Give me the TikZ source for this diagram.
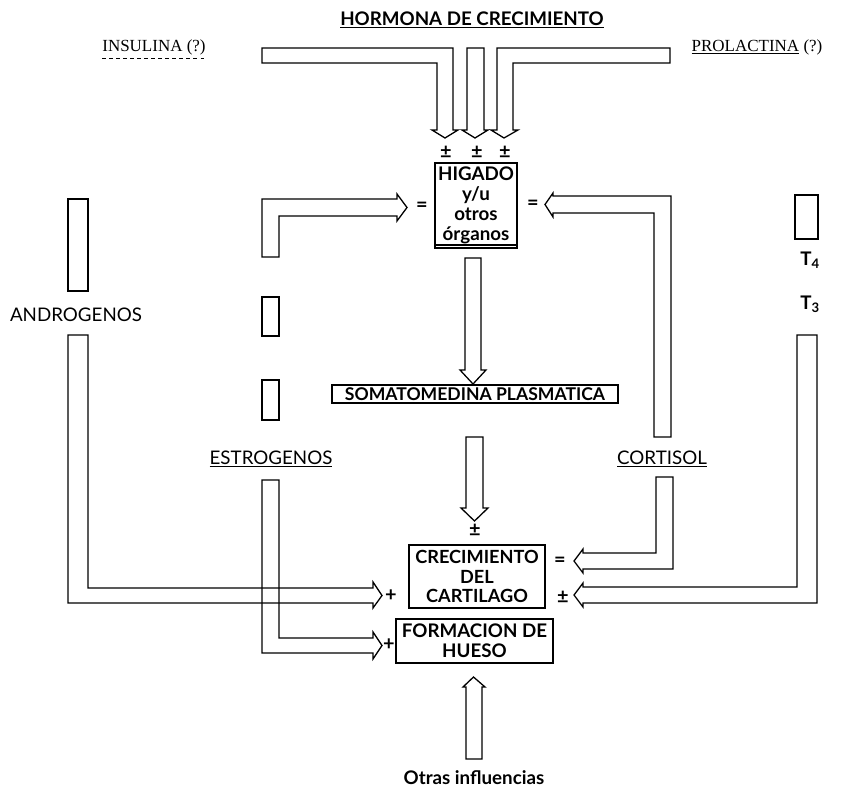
\documentclass[tikz,border=0pt]{standalone}
\usepackage{fontspec}
\setmainfont{Lato}
\newfontfamily\romanfont{Liberation Serif}
\usetikzlibrary{positioning}
\begin{document}
\begin{tikzpicture}[
  x=0.03cm, y=-0.03cm,
  lbl/.style={inner sep=0pt, font=\fontsize{16}{17}\selectfont\bfseries},
  rlbl/.style={inner sep=0pt, font=\romanfont\fontsize{14.5}{16}\selectfont},
  box/.style={draw, line width=1.1pt, inner sep=0pt, align=center, font=\fontsize{16}{17}\selectfont\bfseries},
  fat/.style={draw, line width=1.1pt, line join=miter},
  sign/.style={inner sep=0pt, font=\fontsize{17}{17}\selectfont\bfseries}
]
\useasboundingbox (0,0) rectangle (862,792);

% etiquetas
\node[lbl] (titulo) at (472,20) {\underline{HORMONA DE CRECIMIENTO}};
\node[rlbl] (insulina) at (154,47) {INSULINA (?)};
\draw[dashed, line width=0.6pt] ([yshift=-3pt]insulina.south west) -- ([yshift=-3pt]insulina.south east);
\node[rlbl] (prolactina) at (757,47) {\underline{PROLACTINA}~(?)};
\node[lbl] (tcuatro) at (810,260) {T\textsubscript{4}};
\node[lbl] (ttres) at (810,304) {T\textsubscript{3}};
\node[lbl, font=\fontsize{16}{17}\selectfont] (andro) at (76,315) {ANDROGENOS};
\node[lbl, font=\fontsize{16}{17}\selectfont] (estro) at (271,459) {\underline{ESTROGENOS}};
\node[lbl, font=\fontsize{16}{17}\selectfont] (cortisol) at (662,459) {\underline{CORTISOL}};
\node[lbl] (otras) at (474,778) {Otras influencias};

% cajas
\node[box, minimum width=2.46cm, minimum height=2.55cm] (higado) at (476,205.5)
  {HIGADO\\y/u\\otros\\órganos};
\draw[line width=1.1pt] ([yshift=3pt]higado.south west) -- ([yshift=3pt]higado.south east);
\node[box, minimum width=8.58cm, minimum height=0.54cm, font=\fontsize{15}{17}\selectfont\bfseries] (somato) at (475,394) {SOMATOMEDINA PLASMATICA};
\node[box, minimum width=4.08cm, minimum height=1.89cm, font=\fontsize{15.5}{17}\selectfont\bfseries] (cartilago) at (477,576.5)
  {CRECIMIENTO\\DEL\\CARTILAGO};
\node[box, minimum width=4.71cm, minimum height=1.32cm] (hueso) at (474.5,641) {FORMACION DE\\HUESO};

% signos
\node[sign] (s1) at (446,152) {±};
\node[sign] (s2) at (477,152) {±};
\node[sign] (s3) at (505,152) {±};
\node[sign] (s4) at (422,207) {=};
\node[sign] (s5) at (533,205) {=};
\node[sign] (s6) at (475,530) {±};
\node[sign] (s7) at (560,562) {=};
\node[sign] (s8) at (563,597) {±};
\node[sign] (s9) at (391,596) {+};
\node[sign] (s10) at (389,645) {+};

% flechas de la hormona de crecimiento
\draw[fat] (262,48) -- (453,48) -- (453,130) -- (458,130) -- (445,138) -- (432,130) -- (437,130) -- (437,63) -- (262,63) -- cycle;
\draw[fat] (467,48) -- (484,48) -- (484,130) -- (488,130) -- (475,138) -- (462,130) -- (467,130) -- cycle;
\draw[fat] (670,48) -- (497,48) -- (497,130) -- (491,130) -- (504,138) -- (518,130) -- (513,130) -- (513,63) -- (670,63) -- cycle;

% estrogenos y cortisol hacia el higado
\draw[fat] (262,257) -- (262,199) -- (397,199) -- (397,194) -- (407,207.5) -- (397,221) -- (397,216) -- (279,216) -- (279,257) -- cycle;
\draw[fat] (671,437) -- (671,196) -- (553,196) -- (553,193) -- (545,204.5) -- (553,217) -- (553,213) -- (654,213) -- (654,437) -- cycle;

% higado -> somatomedina -> cartilago
\draw[fat] (465,258) -- (481,258) -- (481,370) -- (486,370) -- (473,384) -- (460,370) -- (465,370) -- cycle;
\draw[fat] (466,437) -- (483,437) -- (483,508) -- (488,508) -- (474.5,521) -- (461,508) -- (466,508) -- cycle;

% tramos sueltos
\draw[fat] (68,199) rectangle (88,291);
\draw[fat] (262,297) rectangle (279,336);
\draw[fat] (262,380) rectangle (279,420);
\draw[fat] (795,195) rectangle (818,239);

% androgenos y estrogenos hacia cartilago y hueso
\draw[fat] (68,335) -- (68,603) -- (373,603) -- (373,608) -- (382,595.5) -- (373,582) -- (373,588) -- (88,588) -- (88,335) -- cycle;
\draw[fat] (262,480) -- (262,653) -- (373,653) -- (373,659) -- (382,645.5) -- (373,632) -- (373,638) -- (279,638) -- (279,480) -- cycle;

% cortisol y T3 hacia cartilago
\draw[fat] (656,477) -- (656,553) -- (583,553) -- (583,549) -- (574,561) -- (583,573) -- (583,569) -- (673,569) -- (673,477) -- cycle;
\draw[fat] (817,335) -- (817,603) -- (583,603) -- (583,607) -- (574,595) -- (583,583) -- (583,587) -- (797,587) -- (797,335) -- cycle;

% otras influencias
\draw[fat] (466,759) -- (466,687) -- (463,687) -- (473.5,677) -- (485,687) -- (482,687) -- (482,759) -- cycle;
\end{tikzpicture}
\end{document}
